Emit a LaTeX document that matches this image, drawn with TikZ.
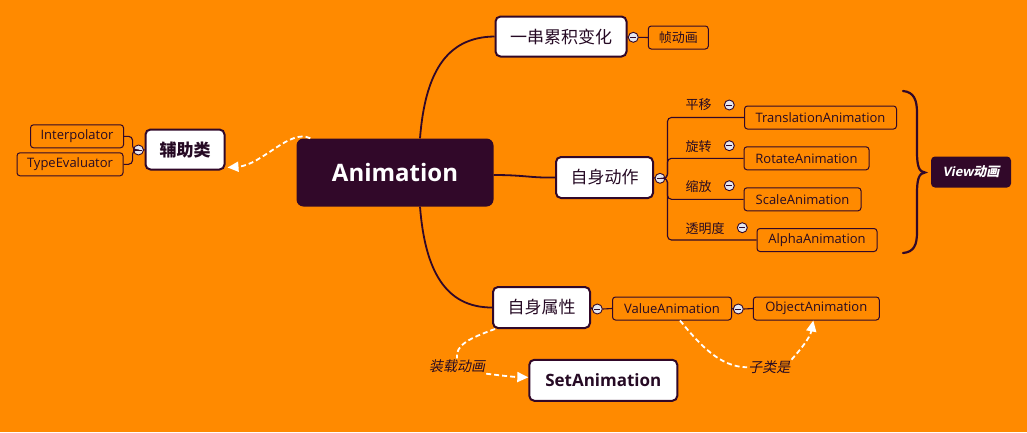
\documentclass[tikz,border=0pt]{standalone}
\usepackage{fontspec}
\setmainfont{Open Sans}
\newfontfamily\cjk{Noto Sans CJK SC}
\newfontfamily\cjkit{Noto Sans CJK SC}[FakeSlant=0.2]
\newfontfamily\slfont{Open Sans}[FakeSlant=0.2]
\usetikzlibrary{arrows.meta}
\definecolor{bg}{RGB}{255,138,0}
\definecolor{dk}{RGB}{49,8,41}
\definecolor{tx}{RGB}{38,10,36}
\definecolor{tgf}{RGB}{228,230,240}
\tikzset{
 conn/.style={draw=dk, line width=1.8pt},
 thinl/.style={draw=dk, line width=1.1pt, rounded corners=4pt},
 rel/.style={draw=white, line width=1.8pt, dash pattern=on 5pt off 3pt},
 relarr/.style={rel, -{Triangle[length=11pt,width=10pt]}},
 central/.style={fill=dk, rounded corners=7pt, text=white, font=\fontsize{24}{28}\selectfont\bfseries, inner sep=0},
 topic/.style={fill=white, draw=dk, line width=2pt, rounded corners=5pt, inner sep=0, text=tx, font=\cjk\fontsize{17}{20}\selectfont},
 leaf/.style={draw=dk, line width=1pt, rounded corners=3pt, inner sep=0, text=tx, minimum height=23pt, font=\fontsize{13}{15}\selectfont},
 tog/.style={circle, fill=tgf, draw=dk, line width=0.9pt, minimum size=10pt, inner sep=0,
   path picture={\draw[dk, line width=1pt] ([xshift=-3pt]path picture bounding box.center) -- ([xshift=3pt]path picture bounding box.center);}},
 lab/.style={inner sep=0, text=tx, font=\cjk\fontsize{13}{15}\selectfont, anchor=west},
 rlab/.style={inner sep=1pt, text=tx, font=\cjkit\fontsize{14}{16}\selectfont},
}
\begin{document}
\begin{tikzpicture}[x=1pt,y=-1pt]
\fill[bg] (0,0) rectangle (1027,432);
\useasboundingbox (0,0) rectangle (1027,432);

% central
\node[central, minimum width=197pt, minimum height=68pt] (anim) at (395,172.5) {Animation};

% left: helper
\node[topic, minimum width=79pt, minimum height=40pt, font=\cjk\bfseries\fontsize{17}{20}\selectfont] (fz) at (185,149.5) {辅助类};
\node[tog] (tgfz) at (138.5,150) {};
\node[leaf, minimum width=93pt] (interp) at (77,136.3) {Interpolator};
\node[leaf, minimum width=106pt] (typeev) at (70,164.3) {TypeEvaluator};

% top
\node[topic, minimum width=131pt, minimum height=40pt] (cl) at (561,36.5) {一串累积变化};
\node[tog] (tgcl) at (633.3,37.3) {};
\node[leaf, minimum width=60pt, font=\cjk\fontsize{13}{15}\selectfont] (zdh) at (678.3,37.5) {帧动画};

% middle
\node[topic, minimum width=97pt, minimum height=41pt] (zsdz) at (604.5,177.5) {自身动作};
\node[tog] (tgdz) at (660,178.3) {};
\node[leaf, minimum width=152pt] (trans) at (820.5,117.5) {TranslationAnimation};
\node[leaf, minimum width=125pt] (rot) at (806.5,158.3) {RotateAnimation};
\node[leaf, minimum width=117pt] (scale) at (802.5,199.3) {ScaleAnimation};
\node[leaf, minimum width=120pt] (alpha) at (817,240) {AlphaAnimation};
\node[lab] (l1) at (685.5,105) {平移};
\node[tog] (t1) at (729.3,105) {};
\node[lab] (l2) at (685.5,146.5) {旋转};
\node[tog] (t2) at (729.3,145.7) {};
\node[lab] (l3) at (685.5,187) {缩放};
\node[tog] (t3) at (729.3,185.7) {};
\node[lab] (l4) at (685.5,229) {透明度};
\node[tog] (t4) at (742.3,227.7) {};

\node[fill=dk, rounded corners=4pt, minimum width=80pt, minimum height=31pt, inner sep=0, text=white] (view) at (971,172)
  {{\slfont\bfseries\fontsize{13}{15}\selectfont View}{\cjkit\bfseries\fontsize{13}{15}\selectfont 动画}};
\draw[dk, line width=2.2pt, line cap=round] (903,91) .. controls (914,92) and (917,100) .. (917,113) -- (917,152)
  .. controls (917,166) and (919,172) .. (925,172.5) .. controls (919,173) and (917,179) .. (917,193) -- (917,232)
  .. controls (917,245) and (914,252) .. (903,253);

% bottom
\node[topic, minimum width=97pt, minimum height=41pt] (zssx) at (541.5,307.5) {自身属性};
\node[tog] (tgsx) at (597.3,309) {};
\node[leaf, minimum width=119pt] (va) at (672,308.5) {ValueAnimation};
\node[tog] (tgva) at (738.3,309) {};
\node[leaf, minimum width=126pt] (oa) at (816.3,308.5) {ObjectAnimation};
\node[topic, minimum width=148pt, minimum height=41pt, font=\fontsize{17}{20}\selectfont\bfseries] (set) at (603.3,380.3) {SetAnimation};
\node[rlab] (lzz) at (457,366) {装载动画};
\node[rlab] (lzl) at (769.3,367.3) {子类是};

% main connectors
\draw[conn] ([xshift=25pt]anim.north) .. controls (425,75) and (445,37) .. (cl.west);
\draw[conn] ([yshift=-2.5pt]anim.east) .. controls (525,175) and (530,178) .. (zsdz.west);
\draw[conn] ([xshift=25pt]anim.south) .. controls (425,270) and (445,307.5) .. (zssx.west);

% brackets
\draw[thinl] (fz.west) -- (tgfz.east);
\draw[thinl] (tgfz.west) -- ++(-0.5,0) |- (interp.east);
\draw[thinl] (tgfz.west) -- ++(-0.5,0) |- (typeev.east);
\draw[thinl] (cl.east) -- (tgcl.west);
\draw[thinl] (tgcl.east) -- (zdh.west);
\draw[thinl] (zsdz.east) -- (tgdz.west);
\draw[thinl] (tgdz.east) -- ++(2,0) |- (trans.west);
\draw[thinl] (tgdz.east) -- ++(2,0) |- (rot.west);
\draw[thinl] (tgdz.east) -- ++(2,0) |- (scale.west);
\draw[thinl] (tgdz.east) -- ++(2,0) |- (alpha.west);
\draw[thinl] (zssx.east) -- (tgsx.west);
\draw[thinl] (tgsx.east) -- (va.west);
\draw[thinl] (va.east) -- (tgva.west);
\draw[thinl] (tgva.east) -- (oa.west);

% relations
\draw[relarr] ([xshift=14pt]anim.north west) .. controls (290,128) and (262,165) .. ([xshift=2pt,yshift=3pt]fz.south east);
\draw[rel] ([xshift=3pt]zssx.south west) .. controls (470,338) and (455,345) .. (lzz.north);
\draw[relarr] (lzz.south east) .. controls (505,376) and (515,377) .. ([yshift=3pt]set.west);
\draw[rel] ([xshift=8pt]va.south) .. controls (700,345) and (720,367) .. (lzl.west);
\draw[relarr] (lzl.north east) .. controls (800,350) and (810,338) .. ([xshift=-3pt]oa.south);
\end{tikzpicture}
\end{document}
